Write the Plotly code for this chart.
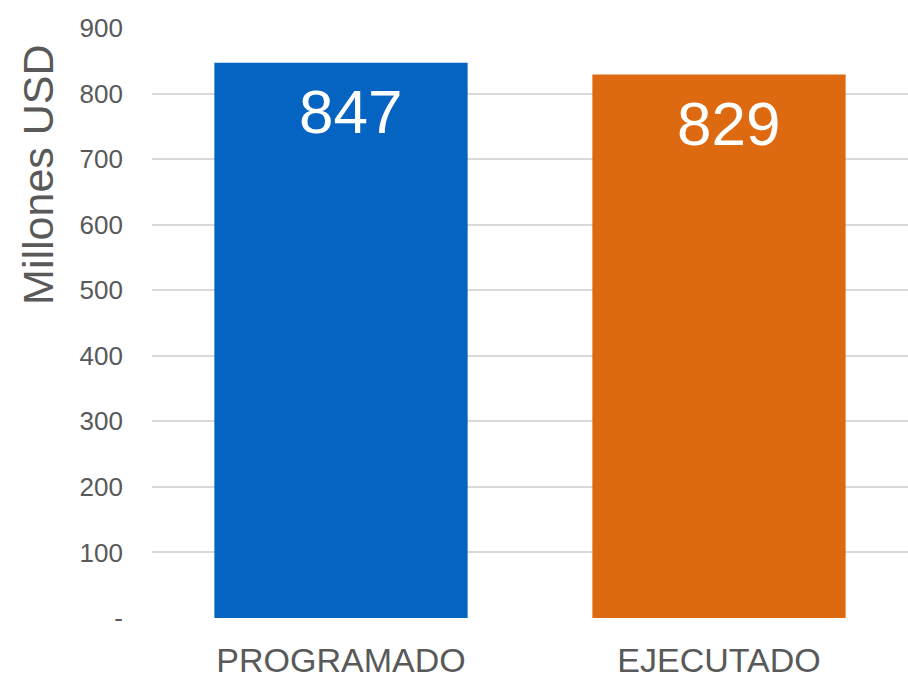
import plotly.graph_objects as go

categories = ["PROGRAMADO", "EJECUTADO"]
values = [847, 829]
colors = ["#0563C1", "#DD6A10"]
tick_vals = [0, 100, 200, 300, 400, 500, 600, 700, 800, 900]
tick_text = ["-", "100", "200", "300", "400", "500", "600", "700", "800", "900"]
y_title = "Millones USD"

FONT = "Liberation Sans, Arial, sans-serif"
GRAY = "#595959"

fig = go.Figure()
fig.add_trace(go.Bar(
    x=categories, y=values, marker=dict(color=colors, line=dict(width=0)),
    hoverinfo="skip", showlegend=False,
))

for c, v in zip(categories, values):
    fig.add_annotation(
        x=c, y=v, xref="x", yref="y", text=str(v), showarrow=False,
        yanchor="top", xanchor="center", yshift=-12, xshift=9,
        font=dict(family=FONT, size=62, color="white"),
    )

fig.add_annotation(
    xref="paper", yref="paper", x=0, y=0.751, xshift=-114,
    text=y_title, textangle=-90, showarrow=False,
    xanchor="center", yanchor="middle",
    font=dict(family=FONT, size=43, color=GRAY),
)

fig.update_layout(
    width=908, height=678,
    margin=dict(l=152, r=0, t=28, b=60),
    paper_bgcolor="white", plot_bgcolor="white",
    bargap=0.33,
    font=dict(family=FONT, color=GRAY),
    xaxis=dict(
        showgrid=False, showline=False, zeroline=False, ticks="",
        tickfont=dict(family=FONT, size=34, color=GRAY),
        ticklabelstandoff=19, automargin=False,
    ),
    yaxis=dict(
        range=[0, 900], tickvals=tick_vals, ticktext=tick_text,
        showgrid=True, gridcolor="#D9D9D9", gridwidth=1.5,
        zeroline=False, showline=False, ticks="",
        tickfont=dict(family=FONT, size=26, color=GRAY),
        ticklabelstandoff=28, automargin=False,
    ),
)

fig.write_html(
    "out.html",
    config={"displayModeBar": False},
    post_script="document.body.style.margin='0';document.body.style.overflow='hidden';",
)
